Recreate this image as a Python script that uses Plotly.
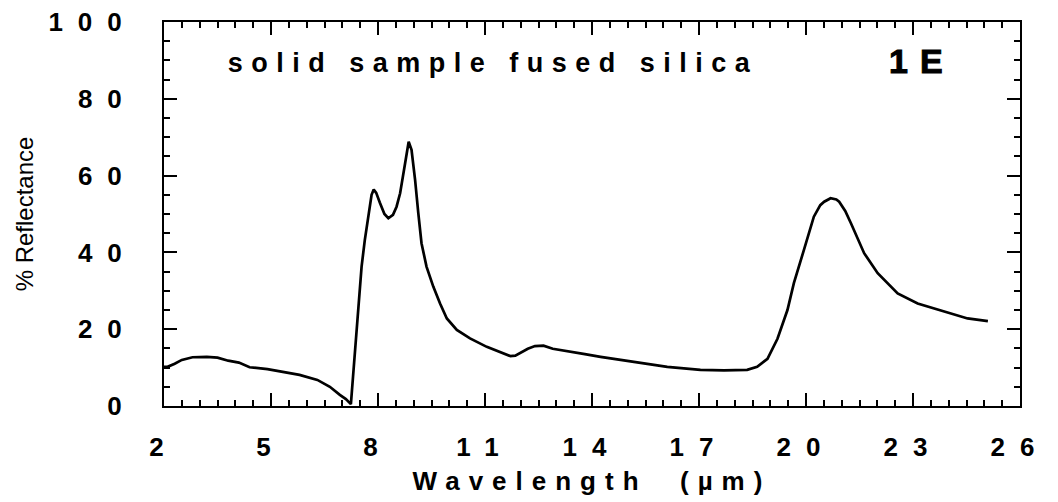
import plotly.graph_objects as go

wavelength_um = [2.0, 2.1, 2.3, 2.5, 2.8, 3.2, 3.5, 3.8, 4.1, 4.4, 4.9, 5.3, 5.8, 6.3, 6.65,
                 6.93, 7.1, 7.24, 7.35, 7.44, 7.54, 7.63, 7.73, 7.82, 7.88, 7.95, 8.05, 8.18,
                 8.29, 8.42, 8.52, 8.62, 8.76, 8.86, 8.94, 9.04, 9.13, 9.22, 9.36, 9.55, 9.74,
                 9.93, 10.21, 10.58, 11.05, 11.42, 11.71, 11.85, 11.99, 12.2, 12.4, 12.64,
                 12.9, 13.3, 13.8, 14.24, 15.17, 16.11, 17.04, 17.7, 18.35, 18.63, 18.92,
                 19.2, 19.48, 19.66, 19.94, 20.22, 20.4, 20.51, 20.69, 20.85, 20.93, 21.1,
                 21.26, 21.63, 22.01, 22.57, 23.13, 23.88, 24.53, 25.1]
reflectance_pct = [10.2, 10.2, 11.0, 12.0, 12.7, 12.8, 12.6, 11.8, 11.3, 10.1, 9.6, 8.9, 8.1,
                   6.8, 5.0, 2.9, 1.8, 0.5, 13.7, 25.9, 36.3, 43.2, 49.3, 55.0, 56.4, 55.5,
                   53.0, 50.0, 48.9, 49.8, 51.9, 55.4, 63.2, 68.8, 66.7, 58.9, 50.2, 42.4,
                   36.3, 31.1, 26.7, 22.8, 19.8, 17.6, 15.4, 14.0, 13.0, 13.1, 13.9, 14.9,
                   15.6, 15.7, 14.9, 14.2, 13.5, 12.8, 11.5, 10.2, 9.4, 9.3, 9.4, 10.2, 12.3,
                   17.5, 25.0, 32.0, 40.6, 49.3, 52.3, 53.2, 54.1, 53.8, 53.2, 50.8, 47.6,
                   39.8, 34.6, 29.3, 26.7, 24.6, 22.8, 22.1]

x_ticks = [2, 5, 8, 11, 14, 17, 20, 23, 26]
y_ticks = [0, 20, 40, 60, 80, 100]

title_text = "solid sample fused silica"
label_text = "1E"
x_title = "Wavelength  (µm)"
y_title = "% Reflectance"

FONT = "Liberation Sans, Arial, Helvetica, sans-serif"

fig = go.Figure()
fig.add_trace(go.Scatter(x=wavelength_um, y=reflectance_pct, mode="lines",
                         line=dict(color="black", width=2.7), showlegend=False))

axis_common = dict(
    showline=True, linewidth=2, linecolor="black", mirror="allticks",
    ticks="inside", tickwidth=2, tickcolor="black", ticklen=13,
    showgrid=False, zeroline=False,
)

fig.update_xaxes(
    range=[2, 26], tickmode="array", tickvals=x_ticks, ticktext=[str(v) for v in x_ticks],
    minor=dict(dtick=0.5, tick0=2, ticks="inside", ticklen=6, tickwidth=1.5,
               tickcolor="black", showgrid=False),
    tickfont=dict(family=FONT, size=26, color="black", weight="bold"),
    ticklabelstandoff=17,
    title=dict(text=x_title, font=dict(family=FONT, size=26, color="black", weight="bold"),
               standoff=11),
    **axis_common,
)
fig.update_yaxes(
    range=[0, 100], tickmode="array", tickvals=y_ticks, ticktext=[str(v) for v in y_ticks],
    minor=dict(dtick=5, tick0=0, ticks="inside", ticklen=6, tickwidth=1.5,
               tickcolor="black", showgrid=False),
    tickfont=dict(family=FONT, size=26, color="black", weight="bold"),
    ticklabelstandoff=20,
    title=dict(text=y_title,
               font=dict(family="Liberation Sans Narrow, Arial Narrow, Liberation Sans, sans-serif",
                         size=24, color="black"),
               standoff=53),
    **axis_common,
)

PL, PR, PT, PB = 164, 1020, 22, 406
def px_to_paper(px, py):
    return (px - PL) / (PR - PL), (PB - py) / (PB - PT)

tx, ty = px_to_paper(493, 63)
fig.add_annotation(x=tx, y=ty, xref="paper", yref="paper",
                   text=title_text, showarrow=False, xanchor="center", yanchor="middle",
                   font=dict(family=FONT, size=27, color="black", weight="bold"))
lx, ly = px_to_paper(922, 61)
fig.add_annotation(x=lx, y=ly, xref="paper", yref="paper",
                   text=label_text, showarrow=False, xanchor="center", yanchor="middle",
                   font=dict(family="Liberation Sans, Arial Black, sans-serif", size=34,
                             color="black", weight="bold"))

fig.update_layout(
    width=1058, height=502,
    margin=dict(l=PL, r=1058 - PR, t=PT, b=502 - PB, autoexpand=False),
    paper_bgcolor="white", plot_bgcolor="white",
)

post = """
document.body.style.margin='0';
function sp(sel, v){document.querySelectorAll(sel).forEach(function(t){t.style.letterSpacing=v;});}
sp('.xtick text', '15px');
sp('.ytick text', '15px');
sp('.g-xtitle text', '9px');
var ann = document.querySelectorAll('.annotation-text');
if (ann.length > 0) ann[0].style.letterSpacing = '8.5px';
if (ann.length > 1) { ann[1].style.letterSpacing = '12px'; ann[1].style.strokeWidth='1px'; ann[1].style.stroke='black'; }
"""
fig.write_html("out.html", post_script=post, config={"displayModeBar": False})
